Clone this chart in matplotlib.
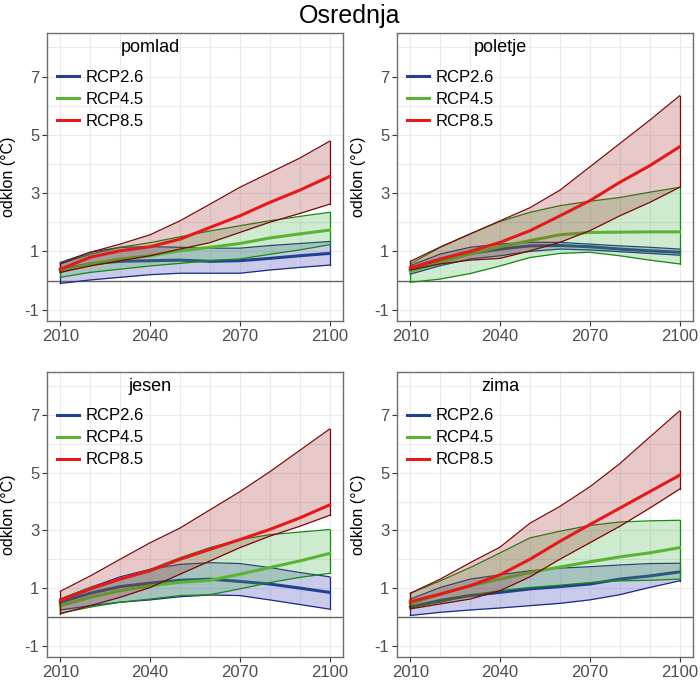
import numpy as np
import matplotlib
matplotlib.use("Agg")
import matplotlib.pyplot as plt

plt.rcParams["font.family"] = ["Liberation Sans", "DejaVu Sans"]
plt.rcParams["axes.unicode_minus"] = False

years = [2010, 2020, 2030, 2040, 2050, 2060, 2070, 2080, 2090, 2100]
seasons = ["pomlad", "poletje", "jesen", "zima"]
scenarios = ["RCP2.6", "RCP4.5", "RCP8.5"]

# pomlad
pomlad_26_lo = [-0.10, 0.02, 0.11, 0.20, 0.25, 0.25, 0.25, 0.36, 0.45, 0.53]
pomlad_26_mid = [0.36, 0.57, 0.66, 0.68, 0.70, 0.66, 0.68, 0.76, 0.85, 0.93]
pomlad_26_hi = [0.62, 0.97, 1.14, 1.16, 1.14, 1.11, 1.11, 1.20, 1.27, 1.34]
pomlad_45_lo = [0.11, 0.28, 0.39, 0.50, 0.59, 0.68, 0.74, 0.90, 1.05, 1.23]
pomlad_45_mid = [0.31, 0.57, 0.74, 0.85, 1.02, 1.14, 1.27, 1.46, 1.60, 1.73]
pomlad_45_hi = [0.57, 0.90, 1.14, 1.30, 1.50, 1.70, 1.88, 2.05, 2.20, 2.34]
pomlad_85_lo = [0.28, 0.50, 0.68, 0.85, 1.08, 1.30, 1.65, 2.00, 2.30, 2.62]
pomlad_85_mid = [0.39, 0.80, 1.02, 1.16, 1.42, 1.82, 2.22, 2.68, 3.10, 3.57]
pomlad_85_hi = [0.57, 0.97, 1.25, 1.57, 2.05, 2.62, 3.20, 3.70, 4.20, 4.78]

# poletje
poletje_26_lo = [0.22, 0.51, 0.74, 0.85, 1.00, 1.08, 1.05, 0.99, 0.93, 0.87]
poletje_26_mid = [0.36, 0.70, 0.93, 1.08, 1.19, 1.20, 1.16, 1.08, 1.02, 0.97]
poletje_26_hi = [0.51, 0.91, 1.14, 1.25, 1.31, 1.31, 1.25, 1.19, 1.14, 1.08]
poletje_45_lo = [-0.06, 0.05, 0.24, 0.50, 0.79, 0.93, 0.97, 0.85, 0.70, 0.57]
poletje_45_mid = [0.31, 0.62, 0.91, 1.16, 1.37, 1.57, 1.65, 1.66, 1.67, 1.67]
poletje_45_hi = [0.57, 1.14, 1.60, 2.03, 2.34, 2.57, 2.72, 2.85, 3.03, 3.20]
poletje_85_lo = [0.36, 0.57, 0.70, 0.76, 1.02, 1.31, 1.71, 2.22, 2.68, 3.20]
poletje_85_mid = [0.43, 0.74, 1.00, 1.31, 1.71, 2.22, 2.74, 3.37, 3.94, 4.59]
poletje_85_hi = [0.66, 1.15, 1.60, 2.05, 2.50, 3.10, 3.90, 4.70, 5.50, 6.34]

# jesen
jesen_26_lo = [0.24, 0.39, 0.51, 0.59, 0.70, 0.76, 0.74, 0.59, 0.43, 0.27]
jesen_26_mid = [0.51, 0.82, 1.05, 1.17, 1.27, 1.31, 1.23, 1.14, 1.00, 0.85]
jesen_26_hi = [0.62, 1.02, 1.39, 1.65, 1.82, 1.88, 1.85, 1.71, 1.54, 1.39]
jesen_45_lo = [0.13, 0.34, 0.51, 0.62, 0.74, 0.77, 0.97, 1.19, 1.37, 1.51]
jesen_45_mid = [0.39, 0.68, 0.91, 1.08, 1.20, 1.27, 1.48, 1.71, 1.94, 2.20]
jesen_45_hi = [0.62, 1.02, 1.31, 1.65, 2.05, 2.40, 2.68, 2.85, 2.94, 3.03]
jesen_85_lo = [0.11, 0.39, 0.68, 1.02, 1.48, 1.94, 2.40, 2.80, 3.14, 3.52]
jesen_85_mid = [0.57, 0.97, 1.31, 1.60, 2.00, 2.34, 2.68, 3.03, 3.43, 3.88]
jesen_85_hi = [0.89, 1.42, 2.00, 2.57, 3.08, 3.71, 4.34, 5.03, 5.77, 6.51]

# zima
zima_26_lo = [0.05, 0.16, 0.24, 0.31, 0.39, 0.47, 0.59, 0.77, 1.02, 1.25]
zima_26_mid = [0.34, 0.57, 0.74, 0.85, 0.97, 1.05, 1.14, 1.31, 1.42, 1.56]
zima_26_hi = [0.62, 1.02, 1.31, 1.46, 1.60, 1.69, 1.74, 1.80, 1.85, 1.86]
zima_45_lo = [0.34, 0.51, 0.74, 0.91, 1.02, 1.10, 1.19, 1.25, 1.27, 1.31]
zima_45_mid = [0.45, 0.79, 1.08, 1.31, 1.54, 1.73, 1.91, 2.08, 2.22, 2.40]
zima_45_hi = [0.82, 1.25, 1.71, 2.22, 2.74, 2.97, 3.17, 3.29, 3.33, 3.35]
zima_85_lo = [0.28, 0.45, 0.62, 0.91, 1.39, 2.00, 2.57, 3.14, 3.77, 4.43]
zima_85_mid = [0.53, 0.79, 1.08, 1.46, 2.00, 2.62, 3.20, 3.77, 4.34, 4.91]
zima_85_hi = [0.82, 1.31, 1.88, 2.42, 3.25, 3.83, 4.51, 5.31, 6.23, 7.14]

data = {
    "pomlad": [(pomlad_26_lo, pomlad_26_mid, pomlad_26_hi),
               (pomlad_45_lo, pomlad_45_mid, pomlad_45_hi),
               (pomlad_85_lo, pomlad_85_mid, pomlad_85_hi)],
    "poletje": [(poletje_26_lo, poletje_26_mid, poletje_26_hi),
                (poletje_45_lo, poletje_45_mid, poletje_45_hi),
                (poletje_85_lo, poletje_85_mid, poletje_85_hi)],
    "jesen": [(jesen_26_lo, jesen_26_mid, jesen_26_hi),
              (jesen_45_lo, jesen_45_mid, jesen_45_hi),
              (jesen_85_lo, jesen_85_mid, jesen_85_hi)],
    "zima": [(zima_26_lo, zima_26_mid, zima_26_hi),
             (zima_45_lo, zima_45_mid, zima_45_hi),
             (zima_85_lo, zima_85_mid, zima_85_hi)],
}

line_cols = ["#233f8f", "#5ab434", "#e31a1c"]
fill_cols = ["#5050c0", "#40b040", "#a02828"]
edge_cols = ["#1a2a80", "#148a14", "#7a0a0a"]
fill_alpha = [0.3, 0.25, 0.25]

fig = plt.figure(figsize=(7, 7), dpi=100)
positions = [
    [0.067, 0.541, 0.423, 0.412],
    [0.567, 0.541, 0.423, 0.412],
    [0.067, 0.061, 0.423, 0.408],
    [0.567, 0.061, 0.423, 0.408],
]

for season, pos in zip(seasons, positions):
    ax = fig.add_axes(pos)
    ax.set_xlim(2005.5, 2104.5)
    ax.set_ylim(-1.4, 8.5)
    ax.set_xticks([2010, 2040, 2070, 2100])
    ax.set_xticks(np.arange(2020, 2100, 10), minor=True)
    ax.set_yticks([-1, 1, 3, 5, 7])
    ax.set_yticks([0, 2, 4, 6, 8], minor=True)
    ax.grid(True, which="both", color="#ebebeb", linewidth=0.8)
    ax.set_axisbelow(True)
    ax.tick_params(which="minor", length=0)
    ax.tick_params(which="major", length=3.5, color="#333333", pad=2,
                   labelsize=12, labelcolor="#4d4d4d")
    for s in ax.spines.values():
        s.set_color("#6e6e6e")
        s.set_linewidth(1.0)
    ax.axhline(0, color="#666666", linewidth=1.0, zorder=1)

    handles = []
    for i, (lo, mid, hi) in enumerate(data[season]):
        ax.fill_between(years, lo, hi, color=fill_cols[i], alpha=fill_alpha[i],
                        linewidth=0, zorder=2 + i)
        ax.plot(years, lo, color=edge_cols[i], linewidth=0.9, zorder=2 + i)
        ax.plot(years, hi, color=edge_cols[i], linewidth=0.9, zorder=2 + i)
        ax.plot([years[0], years[0]], [lo[0], hi[0]], color=edge_cols[i],
                linewidth=0.9, zorder=2 + i)
        ax.plot([years[-1], years[-1]], [lo[-1], hi[-1]], color=edge_cols[i],
                linewidth=0.9, zorder=2 + i)
        h, = ax.plot(years, mid, color=line_cols[i], linewidth=2.2,
                     zorder=2 + i, label=scenarios[i])
        handles.append(h)

    ax.text(2040, 8.0, season, ha="center", va="center", fontsize=13)
    ax.legend(handles=handles, loc="upper left", bbox_to_anchor=(0.012, 0.895),
              frameon=False, fontsize=12, handlelength=1.3,
              handletextpad=0.4, labelspacing=0.42, borderaxespad=0)
    ax.set_ylabel("odklon (°C)", fontsize=11.5)
    ax.yaxis.set_label_coords(-0.105, 0.5)

fig.suptitle("Osrednja", fontsize=18, y=0.995)
fig.savefig("out.png", dpi=100)
